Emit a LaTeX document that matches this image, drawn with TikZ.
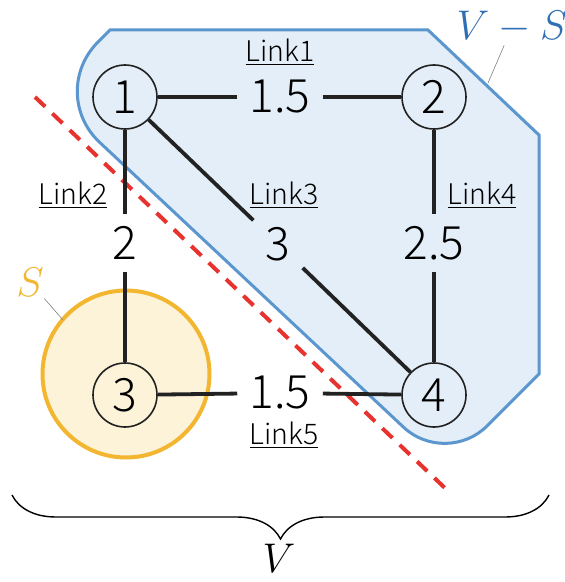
\documentclass[tikz,border=0pt]{standalone}
\usepackage{fontspec}
\setmainfont{Noto Sans CJK JP}[UprightFont=* Light]
\usetikzlibrary{decorations.pathreplacing}
\definecolor{regionblue}{HTML}{5B96CE}
\definecolor{regionfill}{HTML}{E3EEF8}
\definecolor{setorange}{HTML}{F2B631}
\definecolor{setfill}{HTML}{FCF3D8}
\definecolor{cutred}{HTML}{E8322E}
\definecolor{labelblue}{HTML}{2F6FB3}
\definecolor{edgegray}{HTML}{222222}
\tikzset{
  vtx/.style={circle,draw=edgegray,line width=0.8pt,minimum size=32pt,inner sep=0pt,
    font=\fontsize{23}{26}\selectfont},
  wt/.style={inner sep=6pt,font=\fontsize{23}{26}\selectfont},
  lnk/.style={inner sep=0pt,font=\fontsize{14.2}{16}\selectfont},
  edge/.style={line width=1.9pt,draw=edgegray},
  leader/.style={line width=0.3pt,draw=gray},
  setname/.style={inner sep=1pt,font=\fontsize{21}{24}\selectfont},
}
\begin{document}
\begin{tikzpicture}[x=0.5pt,y=-0.5pt]
  \useasboundingbox (0,0) rectangle (565,582);
  % the set V-S
  \draw[line width=1.5pt,draw=regionblue,fill=regionfill]
    (110,30) -- (428,30) -- (539,135) -- (539,374)
    [rounded corners=29pt] -- (446,467) [rounded corners=36pt] -- (47,93)
    [sharp corners] -- cycle;
  % the set S
  \draw[line width=2pt,draw=setorange,fill=setfill] (126,374) circle[radius=83.5];
  % the cut
  \draw[cutred,line width=2pt,dash pattern=on 7pt off 5pt] (35,97) -- (447,490);

  \node[vtx] (v1) at (125,97) {1};
  \node[vtx] (v2) at (434,97) {2};
  \node[vtx] (v3) at (125,395) {3};
  \node[vtx] (v4) at (434,395) {4};

  \node[wt] (w12) at (280,97) {1.5};
  \node[wt] (w13) at (125,243) {2};
  \node[wt] (w14) at (278,244) {3};
  \node[wt] (w24) at (434,243) {2.5};
  \node[wt] (w34) at (280,393) {1.5};

  \draw[edge] (v1) -- (w12) (w12) -- (v2);
  \draw[edge] (v1) -- (w13) (w13) -- (v3);
  \draw[edge] (v1) -- (w14) (w14) -- (v4);
  \draw[edge] (v2) -- (w24) (w24) -- (v4);
  \draw[edge] (v3) -- (w34) (w34) -- (v4);

  \node[lnk] (l1) at (280,52) {\underline{Link1}};
  \node[lnk] (l2) at (73,195) {\underline{Link2}};
  \node[lnk] (l3) at (284,195) {\underline{Link3}};
  \node[lnk] (l4) at (482,195) {\underline{Link4}};
  \node[lnk] (l5) at (284,435) {\underline{Link5}};

  % set names
  \node[setname,text=labelblue] (vs) at (512,27) {$V-S$};
  \coordinate (vsp) at (488,83);
  \draw[leader] (vs) -- (vsp);
  \node[setname,text=setorange] (s) at (30,282) {$S$};
  \coordinate (sp) at (63,320);
  \draw[leader] (s) -- (sp);

  % all nodes
  \draw[line width=0.7pt,decorate,decoration={brace,mirror,amplitude=22pt}]
    (12,495) -- (549,495);
  \node[setname] (v) at (279,558) {$V$};
\end{tikzpicture}
\end{document}
